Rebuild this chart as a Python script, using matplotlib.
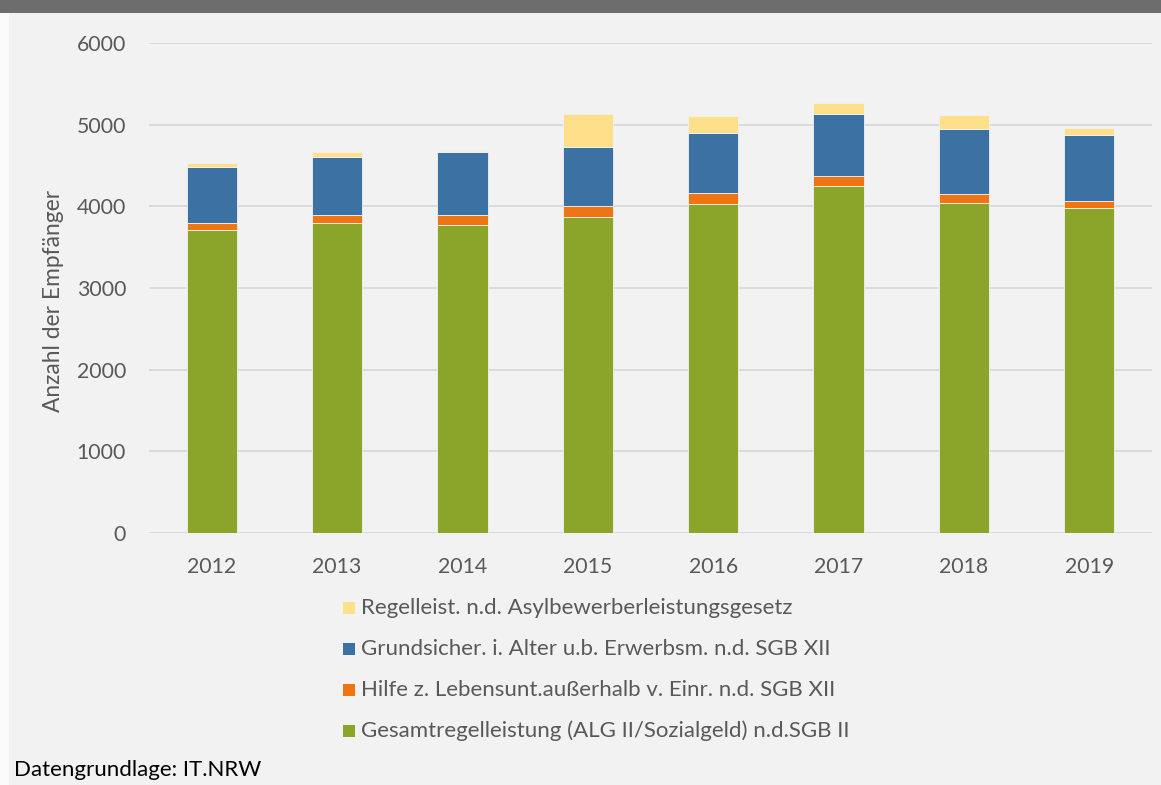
import matplotlib
matplotlib.use("Agg")
import matplotlib.pyplot as plt
import matplotlib.patches as mpatches
import numpy as np

years = ["2012", "2013", "2014", "2015", "2016", "2017", "2018", "2019"]
sgb2 = [3708, 3800, 3774, 3871, 4029, 4243, 4041, 3980]
hilfe = [90, 97, 121, 129, 134, 130, 113, 89]
grundsicher = [681, 713, 770, 729, 729, 762, 794, 802]
asyl = [56, 53, 15, 406, 210, 129, 175, 94]

series_labels = [
    "Gesamtregelleistung (ALG II/Sozialgeld) n.d.SGB II",
    "Hilfe z. Lebensunt.außerhalb v. Einr. n.d. SGB XII",
    "Grundsicher. i. Alter u.b. Erwerbsm. n.d. SGB XII",
    "Regelleist. n.d. Asylbewerberleistungsgesetz",
]
colors = ["#8ba52a", "#ef7513", "#3c71a3", "#fedf8a"]
yticks = [0, 1000, 2000, 3000, 4000, 5000, 6000]
ylabel = "Anzahl der Empfänger"
source = "Datengrundlage: IT.NRW"

FAM = ['Lato', 'DejaVu Sans']
plt.rcParams['font.family'] = FAM

W, H = 1161, 785
fig = plt.figure(figsize=(W / 100, H / 100), dpi=100)
fig.patch.set_facecolor("#f2f2f2")
renderer = fig.canvas.get_renderer()


def fit_size(text, target_px, base=12.0):
    t = fig.text(0, 0, text, fontsize=base)
    w = t.get_window_extent(renderer).width
    t.remove()
    return base * target_px / w


def fx(px):
    return px / W


def fy(py):
    return 1 - py / H


# header band and left strip
fig.add_artist(mpatches.Rectangle((0, fy(13)), 1, 13 / H, transform=fig.transFigure,
                                  facecolor="#6d6d6d", edgecolor="none", zorder=0))
fig.add_artist(mpatches.Rectangle((0, 0), fx(9), fy(13), transform=fig.transFigure,
                                  facecolor="#fbfbfb", edgecolor="none", zorder=0))

ax = fig.add_axes([fx(149), fy(533), fx(1152) - fx(149), (533 - 43) / H])
ax.set_facecolor("#f2f2f2")

x = np.arange(len(years))
data = [sgb2, hilfe, grundsicher, asyl]
base = np.zeros(len(years))
for vals, col, lab in zip(data, colors, series_labels):
    ax.bar(x, vals, bottom=base, width=0.4, color=col, edgecolor="#f2f2f2",
           linewidth=0.6, label=lab, zorder=3)
    base = base + np.array(vals)

tick_fs = fit_size("6000", 49)
ax.set_xlim(-0.5, len(years) - 0.5)
ax.set_ylim(0, 6000)
ax.set_yticks(yticks)
ax.set_xticks(x)
ax.set_xticklabels(years)
ax.yaxis.grid(True, color="#d9d9d9", linewidth=1.3, zorder=0)
ax.set_axisbelow(True)
for s in ax.spines.values():
    s.set_visible(False)
ax.tick_params(axis="both", length=0, labelsize=tick_fs, colors="#595959")
ax.tick_params(axis="y", pad=16.5)
ax.tick_params(axis="x", pad=17)

ylab_fs = fit_size(ylabel, 221)
ax.set_ylabel(ylabel, fontsize=ylab_fs, color="#595959")
ax.yaxis.set_label_coords((64 - 149) / (1152 - 149), 1 - (301 - 43) / 490)

# legend (reverse order, one entry per row)
leg_fs = fit_size(series_labels[0], 487)
rows_y = [608, 649, 690, 731]
for lab, col, ry in zip(series_labels[::-1], colors[::-1], rows_y):
    fig.add_artist(mpatches.Rectangle((fx(343), fy(ry + 6)), 12 / W, 12 / H,
                                      transform=fig.transFigure, facecolor=col,
                                      edgecolor="none"))
    fig.text(fx(361), fy(ry), lab, fontsize=leg_fs, color="#595959",
             va="center", ha="left")

src_fs = fit_size(source, 246)
fig.text(fx(14), fy(770), source, fontsize=src_fs, color="#000000",
         va="center", ha="left")

fig.savefig("out.png", dpi=100, facecolor=fig.get_facecolor())
